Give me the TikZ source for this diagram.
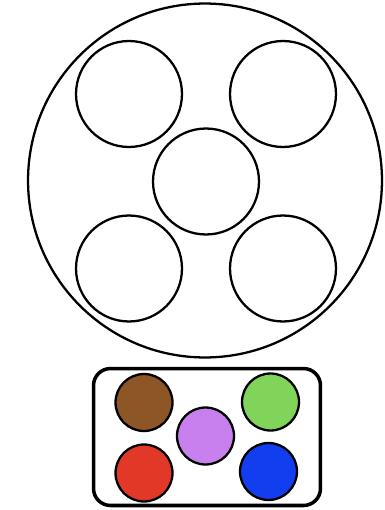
\documentclass[tikz,border=0pt]{standalone}
\usetikzlibrary{positioning}
\definecolor{potbrown}{RGB}{140,86,38}
\definecolor{potgreen}{RGB}{128,212,90}
\definecolor{potviolet}{RGB}{200,128,238}
\definecolor{potred}{RGB}{226,56,40}
\definecolor{potblue}{RGB}{18,62,240}
\begin{document}
\begin{tikzpicture}[
  x=0.02cm, y=-0.02cm,
  plate/.style={draw, circle, inner sep=0pt, line width=1.3pt, minimum size=7.08cm},
  well/.style={draw, circle, inner sep=0pt, line width=1.3pt, minimum size=2.12cm},
  tray/.style={draw, rectangle, rounded corners=0.34cm, inner sep=0pt, line width=2pt, minimum width=4.54cm, minimum height=2.74cm},
  paint/.style={draw, circle, inner sep=0pt, line width=1.3pt, minimum size=1.14cm}
]
\useasboundingbox (0,0) rectangle (385,510);
% palette of wells
\node[plate] (board) at (205,180.5) {};
\node[well] (wtl) at (129,94) {};
\node[well] (wtr) at (283,94) {};
\node[well] (wmid) at (206,181.5) {};
\node[well] (wbl) at (129,268.5) {};
\node[well] (wbr) at (283,268.5) {};
% paint tray
\node[tray] (box) at (207,437) {};
\node[paint, fill=potbrown]  (brown)  at (144,402.5) {};
\node[paint, fill=potgreen]  (green)  at (270.5,402) {};
\node[paint, fill=potviolet] (violet) at (205.5,436) {};
\node[paint, fill=potred]    (red)    at (144,473) {};
\node[paint, fill=potblue]   (blue)   at (268.5,471.5) {};
\end{tikzpicture}
\end{document}
